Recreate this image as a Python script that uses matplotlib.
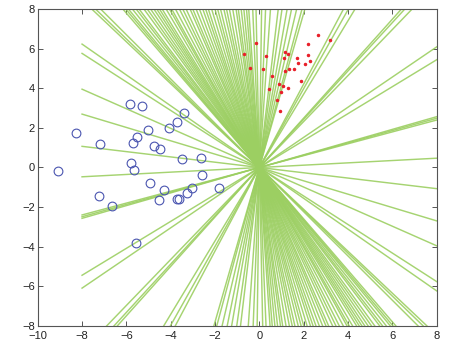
import matplotlib.pyplot as plt
import numpy as np

plt.rcParams['font.family'] = ['Liberation Sans', 'DejaVu Sans']

# lines through the origin: steep ones given by x where they meet y=8,
# shallow ones by y at x=8
top_x = [-7.55, -7.38, -7.15, -6.15, -6.02, -5.9, -5.72, -5.55, -5.42, -5.2,
         -5.05, -4.9, -4.75, -4.62, -4.5, -4.38, -4.2, -4.05, -3.95, -3.78,
         -3.6, -3.45, -3.3, -3.12, -3.0, -2.85, -2.7, -2.55, -2.42, -2.3,
         -2.15, -2.0, -1.88, -1.75, -1.6, -1.48, -1.35, -1.2, -1.05, -0.95,
         -0.82, -0.7, -0.58, -0.48, -0.3, -0.15,
         0.1, 0.28, 0.5, 0.85, 1.02, 1.25, 1.45, 1.68, 1.92, 2.05,
         3.79, 4.01, 4.31, 6.4, 6.55, 6.88]
side_y = [6.1, 5.45, 2.57, 2.49, 2.40, 0.47, -1.07, -2.7, -3.96, -5.77, -6.24]

# class -1 (blue circles)
neg_x = [-5.84, -5.31, -3.40, -3.73, -4.08, -8.27, -5.01, -5.52, -5.70, -7.19,
         -4.74, -4.48, -3.50, -2.62, -5.79, -5.66, -9.10, -2.59, -4.92, -4.30,
         -3.03, -1.82, -3.25, -7.22, -4.54, -3.73, -3.63, -6.63, -5.57]
neg_y = [3.20, 3.13, 2.76, 2.28, 2.01, 1.76, 1.90, 1.54, 1.24, 1.17,
         1.09, 0.94, 0.43, 0.46, 0.23, -0.11, -0.18, -0.36, -0.78, -1.15,
         -1.05, -1.04, -1.31, -1.46, -1.64, -1.59, -1.59, -1.93, -3.83]

# class +1 (red dots)
pos_x = [2.63, 3.18, -0.14, 2.19, -0.68, 0.31, 1.14, 1.29, 1.12, 2.19,
         1.71, 2.28, 2.07, 1.73, -0.42, 0.18, 1.17, 1.34, 1.57, 0.57,
         1.86, 0.87, 1.08, 1.30, 0.42, 0.96, 0.81, 0.92]
pos_y = [6.71, 6.43, 6.31, 6.23, 5.74, 5.64, 5.84, 5.74, 5.55, 5.69,
         5.54, 5.40, 5.25, 5.28, 5.01, 4.96, 4.88, 5.00, 4.98, 4.63,
         4.39, 4.24, 4.10, 4.00, 3.97, 3.83, 3.41, 2.86]

fig = plt.figure(figsize=(4.49, 3.47), dpi=100)
ax = fig.add_axes([0.084, 0.0614, 0.8886, 0.9118])

green = '#9ccf62'
xs = np.array([-8.0, 8.0])
for t in top_x:
    ax.plot(xs, xs * 8.0 / t, color=green, lw=1.05, alpha=0.9)
for s in side_y:
    ax.plot(xs, xs * s / 8.0, color=green, lw=1.05, alpha=0.9)

ax.plot(neg_x, neg_y, 'o', mfc='none', mec='#4a55b0', mew=0.8, ms=6.3)
ax.plot(pos_x, pos_y, '.', color='#e8202a', ms=3)

ax.set_xlim(-10, 8)
ax.set_ylim(-8, 8)
ax.set_xticks(np.arange(-10, 9, 2))
ax.set_yticks(np.arange(-8, 9, 2))
ax.tick_params(direction='in', top=True, right=True, length=3.5, width=0.7,
               labelsize=8, colors='#555555', labelcolor='#222222', pad=2)
ax.tick_params(axis='x', pad=4)
for sp in ax.spines.values():
    sp.set_color('#555555')
    sp.set_linewidth(0.8)

fig.savefig('out.png', dpi=100)
